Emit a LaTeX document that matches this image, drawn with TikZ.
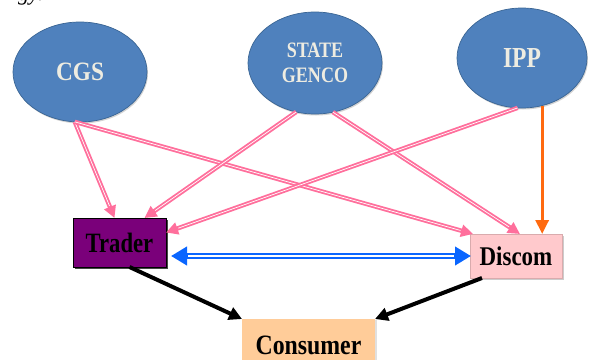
\documentclass[tikz,border=0pt]{standalone}
\usepackage{fontspec}
\setmainfont{Liberation Serif}
\usepackage{graphicx}
\usetikzlibrary{arrows.meta,shapes.geometric,shadows}

\definecolor{genblue}{HTML}{4F81BD}
\definecolor{genedge}{HTML}{3A6594}
\definecolor{genfont}{HTML}{EEECE1}
\definecolor{flowpink}{HTML}{FF6F9C}
\definecolor{tradepurple}{HTML}{7A007A}
\definecolor{discompink}{HTML}{FFC9CC}
\definecolor{consumerorange}{HTML}{FFCC99}
\definecolor{tradeblue}{HTML}{0A66FF}
\definecolor{ippline}{HTML}{FF6A10}

\newcommand{\narrow}[2]{\scalebox{#1}[1]{#2}}

\tikzset{
  gen/.style={ellipse, fill=genblue, draw=genedge, line width=0.7pt,
    inner sep=0pt, outer sep=0pt, text=genfont, align=center,
    drop shadow={shadow xshift=1pt, shadow yshift=-1.5pt, opacity=0.35}},
  party/.style={rectangle, inner sep=0pt, outer sep=0pt, text=black},
  supply/.style={draw=flowpink, line width=4.4pt,
    -{Triangle[length=12pt,width=12pt]},
    postaction={draw=white, line width=0.7pt, -, shorten >=13pt}},
  sale/.style={draw=black, line width=4pt, -{Triangle[length=13pt,width=13pt]}},
  direct/.style={draw=ippline, line width=3pt, -{Triangle[length=14pt,width=13pt]}},
  trade/.style={draw=tradeblue, line width=5.5pt,
    {Triangle[length=16pt,width=18pt]}-{Triangle[length=16pt,width=18pt]},
    postaction={draw=white, line width=1.2pt, -, shorten >=17pt, shorten <=17pt}},
}

\begin{document}
\begin{tikzpicture}[x=1pt, y=-1pt]
\useasboundingbox (0,0) rectangle (592,359);

% heading fragment at the top edge
\node[anchor=base west, inner sep=0pt, font=\itshape\fontsize{22}{24}\selectfont] (head) at (18,0) {gy.};

% generators
\node[gen, minimum width=134pt, minimum height=100pt,
  font=\bfseries\fontsize{26.5}{28}\selectfont] (cgs) at (80,72) {\narrow{0.88}{CGS}};
\node[gen, minimum width=134pt, minimum height=102pt,
  font=\bfseries\fontsize{22}{25}\selectfont] (genco) at (315,63)
  {\narrow{0.82}{STATE}\\\narrow{0.82}{GENCO}};
\node[gen, minimum width=130pt, minimum height=100pt,
  font=\bfseries\fontsize{29}{30}\selectfont] (ipp) at (522,58) {\narrow{0.81}{IPP}};

% market participants
\node[party, fill=tradepurple, draw=black, line width=0.8pt,
  minimum width=93pt, minimum height=49pt,
  drop shadow={shadow xshift=1.5pt, shadow yshift=-2pt, fill=black!85, opacity=0.85},
  font=\bfseries\fontsize{28}{30}\selectfont] (trader) at (119.5,242.5) {\narrow{0.81}{Trader}};
\node[party, fill=discompink, draw=discompink!85!black, line width=0.5pt,
  minimum width=92pt, minimum height=44pt,
  drop shadow={shadow xshift=1.5pt, shadow yshift=-1.5pt, fill=black!50, opacity=0.4},
  font=\bfseries\fontsize{27}{29}\selectfont] (discom) at (516,256) {\narrow{0.85}{Discom}};
\node[party, fill=consumerorange,
  minimum width=133pt, minimum height=52pt,
  drop shadow={shadow xshift=1.5pt, shadow yshift=-1pt, fill=black!40, opacity=0.3},
  font=\bfseries\fontsize{28}{30}\selectfont] (consumer) at (308.5,345) {\narrow{0.85}{Consumer}};

% power supply contracts
\draw[supply] (cgs.264) -- ([xshift=-5pt]trader.north);
\draw[supply] (cgs.264) -- ([xshift=-43pt]discom.north);
\draw[supply] (genco.249) -- ([xshift=25pt]trader.north);
\draw[supply] (genco.290) -- ([xshift=4pt]discom.north);
\draw[supply] (ipp.265) -- ([yshift=10pt]trader.east);
\draw[direct] (ipp.293) -- (ipp.293 |- discom.north);

% bilateral trading between trader and discom
\coordinate (tradeleft) at (trader.east |- discom.west);
\draw[trade] ([xshift=5pt]tradeleft) -- ([xshift=1pt]discom.west);

% retail supply
\draw[sale] ([xshift=10pt]trader.south) -- (consumer.north west);
\draw[sale] ([xshift=-34pt]discom.south) -- (consumer.north east);
\end{tikzpicture}
\end{document}
